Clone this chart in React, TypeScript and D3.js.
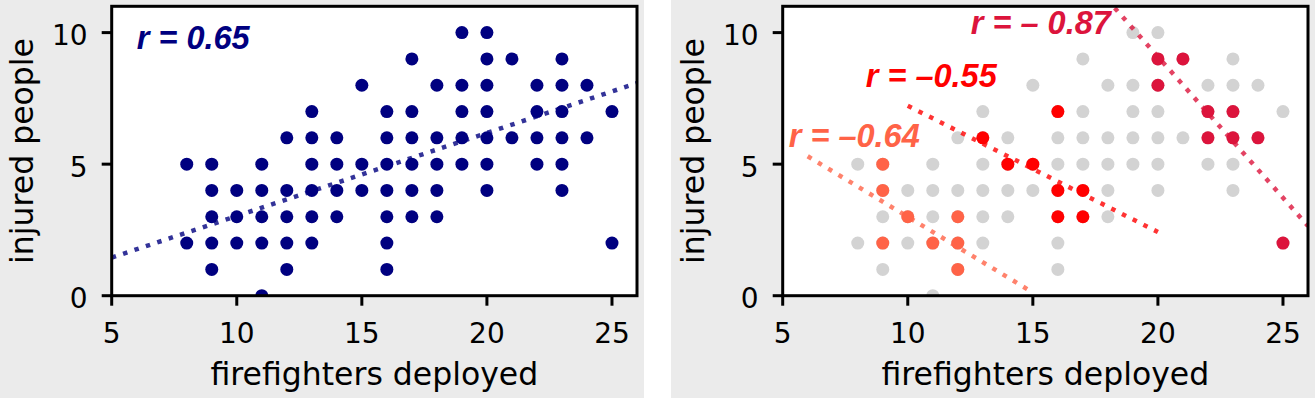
import React from 'react';
import * as d3 from 'd3';

// firefighters deployed (x) and the injured counts seen at each x
const firefighters = [8, 9, 10, 11, 12, 13, 14, 15, 16, 17, 18, 19, 20, 21, 22, 23, 24, 25];
const injured = [
  [5, 2],
  [5, 4, 3, 2, 1],
  [4, 3, 2],
  [5, 4, 3, 2, 0],
  [6, 4, 3, 2, 1],
  [7, 6, 5, 4, 3, 2],
  [6, 5, 4, 3],
  [8, 5, 4],
  [7, 6, 5, 4, 3, 2, 1],
  [9, 7, 6, 5, 4, 3],
  [8, 6, 5, 4, 3],
  [10, 8, 7, 6, 5],
  [10, 9, 8, 7, 6, 5, 4],
  [9, 6],
  [8, 7, 6, 5],
  [9, 8, 7, 6, 5, 4],
  [8, 6],
  [7, 2],
];

// subgroups highlighted on the right
const lowGroup = [[9, 5], [9, 4], [10, 3], [12, 3], [9, 2], [11, 2], [12, 2], [12, 1]];
const midGroup = [[13, 6], [14, 5], [15, 5], [16, 7], [16, 4], [17, 4], [16, 3], [17, 3]];
const highGroup = [[20, 9], [21, 9], [20, 8], [22, 7], [23, 7], [22, 6], [23, 6], [24, 6], [25, 2]];

// fitted lines (endpoints)
const fitAll = [[5, 1.45], [26, 8.08]];
const fitLow = [[6, 5.3], [15, 0.12]];
const fitMid = [[10, 7.22], [20, 2.42]];
const fitHigh = [[17, 12.3], [26, 2.65]];

const xTicks = [5, 10, 15, 20, 25];
const yTicks = [0, 5, 10];

const rAll = 'r = 0.65';
const rLow = 'r = \u20130.64';
const rMid = 'r = \u20130.55';
const rHigh = 'r = \u2013 0.87';

const W = 1315;
const H = 398;
const PANEL_W = 644;
const left = 111.7;
const right = 637;
const top = 6.3;
const bottom = 295.7;

const x = d3.scaleLinear().domain([5, 26]).range([left, right]);
const y = d3.scaleLinear().domain([0, 11]).range([bottom, top]);
const line = d3.line<number[]>().x(d => x(d[0])).y(d => y(d[1]));

const allPoints = firefighters.flatMap((f, i) => injured[i].map(v => [f, v]));

const tickFont = { fontFamily: 'DejaVu Sans', fontSize: 28 };
const labelFont = { fontFamily: 'DejaVu Sans', fontSize: 31.5 };
const rFont = { fontFamily: 'Liberation Sans', fontSize: 32.5, fontWeight: 700, fontStyle: 'italic' };

function Dots({ pts, color, clip }: { pts: number[][]; color: string; clip: string }) {
  return (
    <g clipPath={`url(#${clip})`}>
      {pts.map((p, i) => (
        <circle key={i} cx={x(p[0])} cy={y(p[1])} r={6.5} fill={color} />
      ))}
    </g>
  );
}

function Fit({ pts, color, clip }: { pts: number[][]; color: string; clip: string }) {
  return (
    <path
      d={line(pts) || ''}
      clipPath={`url(#${clip})`}
      fill="none"
      stroke={color}
      strokeOpacity={0.8}
      strokeWidth={4.5}
      strokeDasharray="4.5 7.5"
    />
  );
}

function Frame() {
  return (
    <g>
      <rect x={left} y={top} width={right - left} height={bottom - top} fill="none" stroke="#000" strokeWidth={3} />
      {xTicks.map(t => (
        <g key={t}>
          <line x1={x(t)} x2={x(t)} y1={bottom} y2={bottom + 10} stroke="#000" strokeWidth={3} />
          <text x={x(t)} y={342.5} textAnchor="middle" {...tickFont}>{t}</text>
        </g>
      ))}
      {yTicks.map(t => (
        <g key={t}>
          <line x1={left - 10} x2={left} y1={y(t)} y2={y(t)} stroke="#000" strokeWidth={3} />
          <text x={left - 24} y={y(t)} dy="0.45em" textAnchor="end" {...tickFont}>{t}</text>
        </g>
      ))}
      <text x={(left + right) / 2} y={385} textAnchor="middle" {...labelFont}>firefighters deployed</text>
      <text transform={`translate(33,${(top + bottom) / 2}) rotate(-90)`} textAnchor="middle" {...labelFont}>injured people</text>
    </g>
  );
}

export default function App() {
  return (
    <svg width={W} height={H} style={{ position: 'absolute', left: 0, top: 0, display: 'block', background: '#fff' }}>
      <defs>
        <clipPath id="plotClip">
          <rect x={left} y={top} width={right - left} height={bottom - top} />
        </clipPath>
      </defs>

      <g>
        <rect x={0} y={0} width={PANEL_W} height={H} fill="#ebebeb" />
        <rect x={left} y={top} width={right - left} height={bottom - top} fill="#fff" />
        <Dots pts={allPoints} color="#000080" clip="plotClip" />
        <Fit pts={fitAll} color="#000080" clip="plotClip" />
        <text x={x(6.0)} y={y(9.38)} fill="#000080" {...rFont}>{rAll}</text>
        <Frame />
      </g>

      <g transform={`translate(${W - PANEL_W},0)`}>
        <rect x={0} y={0} width={PANEL_W} height={H} fill="#ebebeb" />
        <rect x={left} y={top} width={right - left} height={bottom - top} fill="#fff" />
        <Dots pts={allPoints} color="#d3d3d3" clip="plotClip" />
        <Dots pts={lowGroup} color="#ff6347" clip="plotClip" />
        <Dots pts={midGroup} color="#ff0000" clip="plotClip" />
        <Dots pts={highGroup} color="#dc143c" clip="plotClip" />
        <Fit pts={fitLow} color="#ff6347" clip="plotClip" />
        <Fit pts={fitMid} color="#ff0000" clip="plotClip" />
        <Fit pts={fitHigh} color="#dc143c" clip="plotClip" />
        <text x={x(5.24)} y={y(5.66)} fill="#ff6347" {...rFont}>{rLow}</text>
        <text x={x(8.32)} y={y(7.94)} fill="#ff0000" {...rFont}>{rMid}</text>
        <text x={x(12.52)} y={y(9.94)} fill="#dc143c" {...rFont}>{rHigh}</text>
        <Frame />
      </g>
    </svg>
  );
}
